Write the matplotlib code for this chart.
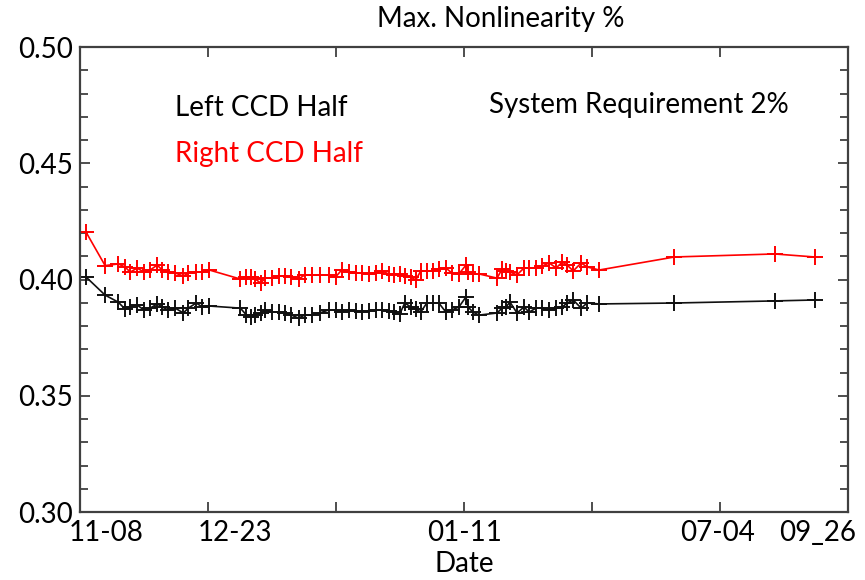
import matplotlib
matplotlib.use("Agg")
import matplotlib.pyplot as plt
from matplotlib.ticker import MultipleLocator

plt.rcParams['font.family'] = ['Lato', 'DejaVu Sans']

# measurement index (day-ish axis units, 0..60)
x = [0.47, 1.96, 2.98, 3.52, 3.92, 4.46, 5.01, 5.48, 6.03, 6.42, 6.89, 7.44,
     8.07, 8.46, 9.08, 9.55, 10.10,
     12.53, 13.00, 13.39, 13.70, 14.10, 14.49, 14.96, 15.51, 16.05, 16.52,
     17.07, 17.54, 18.09, 18.72, 19.42, 19.97, 20.44, 20.99,
     21.53, 22.00, 22.55, 23.10, 23.57, 24.12, 24.51, 24.98, 25.37, 25.84,
     26.23, 26.62, 27.09, 27.56, 28.03, 28.58, 29.05, 29.60, 30.15, 30.31,
     30.70, 31.17,
     32.58, 32.97, 33.28, 33.59, 34.14, 34.69, 35.08, 35.63, 36.10, 36.65,
     37.20, 37.67, 38.06, 38.53, 39.15, 39.62, 40.56,
     46.44, 54.27, 57.40]

left_half = [0.4011, 0.3933, 0.3903, 0.3873, 0.3882, 0.3890, 0.3869, 0.3877,
             0.3895, 0.3882, 0.3869, 0.3877, 0.3856, 0.3877, 0.3899, 0.3882, 0.3886,
             0.3877, 0.3847, 0.3839, 0.3847, 0.3856, 0.3869, 0.3860, 0.3860,
             0.3856, 0.3847, 0.3834, 0.3847, 0.3847, 0.3856, 0.3869, 0.3869,
             0.3860, 0.3869,
             0.3865, 0.3860, 0.3865, 0.3869, 0.3869, 0.3865, 0.3860, 0.3852,
             0.3899, 0.3882, 0.3873, 0.3860, 0.3899, 0.3899, 0.3899, 0.3860,
             0.3869, 0.3882, 0.3925, 0.3882, 0.3860, 0.3847,
             0.3856, 0.3877, 0.3882, 0.3903, 0.3856, 0.3882, 0.3860, 0.3877,
             0.3877, 0.3869, 0.3877, 0.3882, 0.3899, 0.3912, 0.3877, 0.3899, 0.3895,
             0.3899, 0.3908, 0.3912]

right_half = [0.4204, 0.4060, 0.4067, 0.4054, 0.4032, 0.4049, 0.4032, 0.4041,
              0.4062, 0.4041, 0.4032, 0.4028, 0.4015, 0.4028, 0.4032, 0.4032, 0.4041,
              0.4002, 0.4011, 0.4011, 0.4002, 0.3985, 0.4006, 0.4006, 0.4015,
              0.4015, 0.4011, 0.4002, 0.4019, 0.4019, 0.4019, 0.4019, 0.4011,
              0.4041, 0.4032,
              0.4028, 0.4028, 0.4024, 0.4028, 0.4037, 0.4024, 0.4020, 0.4024,
              0.4015, 0.4011, 0.3998, 0.4037, 0.4037, 0.4037, 0.4045, 0.4050,
              0.4028, 0.4024, 0.4062, 0.4032, 0.4024, 0.4024,
              0.4006, 0.4045, 0.4037, 0.4032, 0.4020, 0.4050, 0.4050, 0.4050,
              0.4058, 0.4071, 0.4050, 0.4075, 0.4062, 0.4037, 0.4071, 0.4054, 0.4041,
              0.4097, 0.4110, 0.4097]

date_pos = [2.04, 12.14, 30.07, 49.8, 57.6]
date_labels = ["11-08", "12-23", "01-11", "07-04", "09_26"]

fs = 20

fig = plt.figure(figsize=(8.65, 5.8), dpi=100)
ax = fig.add_axes([0.0925, 0.1172, 0.8879, 0.8017])

ax.plot(x, left_half, color="#111111", lw=1.2, marker="+", ms=11, mew=1.4)
ax.plot(x, right_half, color="#ff0000", lw=1.2, marker="+", ms=11, mew=1.4)

ax.set_xlim(0, 60)
ax.set_ylim(0.30, 0.50)

# major tick marks on x, date labels placed separately (no marks)
ax.xaxis.set_major_locator(MultipleLocator(10))
ax.tick_params(axis="x", which="major", labelbottom=False, top=True,
               direction="in", length=7.5, width=1.3, color="#404040")
ax.set_xticks(date_pos, date_labels, minor=True)
ax.tick_params(axis="x", which="minor", length=0, labelsize=fs, pad=6)

ax.yaxis.set_major_locator(MultipleLocator(0.05))
ax.yaxis.set_minor_locator(MultipleLocator(0.01))
ax.set_yticks([0.30, 0.35, 0.40, 0.45, 0.50], ["0.30", "0.35", "0.40", "0.45", "0.50"])
ax.tick_params(axis="y", which="both", right=True, direction="in",
               width=1.3, color="#404040", labelsize=fs, pad=5)
ax.tick_params(axis="y", which="major", length=7.5)
ax.tick_params(axis="y", which="minor", length=5.5)

for s in ax.spines.values():
    s.set_color("#404040")
    s.set_linewidth(1.6)

ax.set_xlabel("Date", fontsize=fs, labelpad=3)
fig.text(0.579, 0.967, "Max. Nonlinearity %", ha="center", va="center", fontsize=fs)

ax.text(0.124, 0.868, "Left CCD Half", transform=ax.transAxes, fontsize=fs,
        color="black", va="center")
ax.text(0.124, 0.771, "Right CCD Half", transform=ax.transAxes, fontsize=fs,
        color="#ff0000", va="center")
ax.text(0.532, 0.876, "System Requirement 2%", transform=ax.transAxes, fontsize=fs,
        color="black", va="center")

fig.savefig("out.png", dpi=100)
